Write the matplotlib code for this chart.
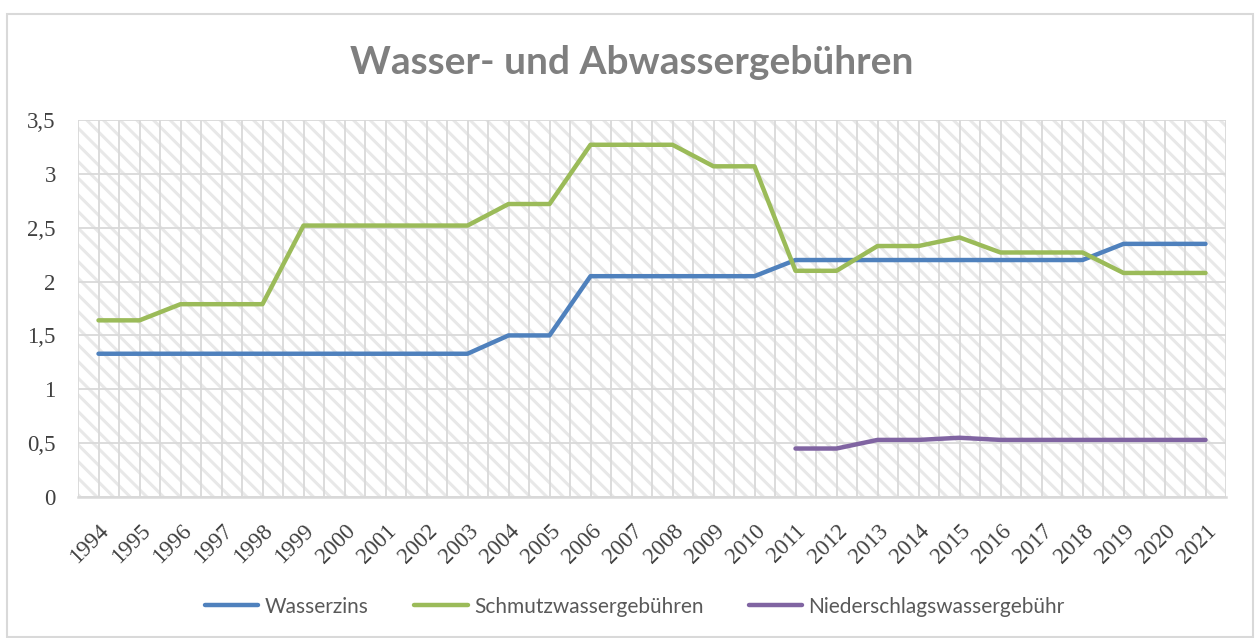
import matplotlib
matplotlib.use("Agg")
import matplotlib.pyplot as plt
from matplotlib.patches import Rectangle
from matplotlib.ticker import FixedLocator, FuncFormatter

# Data
years = [str(y) for y in range(1994, 2022)]
wasserzins = [1.33, 1.33, 1.33, 1.33, 1.33, 1.33, 1.33, 1.33, 1.33, 1.33,
              1.50, 1.50,
              2.05, 2.05, 2.05, 2.05, 2.05,
              2.20, 2.20, 2.20, 2.20, 2.20, 2.20, 2.20, 2.20,
              2.35, 2.35, 2.35]
schmutzwasser = [1.64, 1.64,
                 1.79, 1.79, 1.79,
                 2.52, 2.52, 2.52, 2.52, 2.52,
                 2.72, 2.72,
                 3.27, 3.27, 3.27,
                 3.07, 3.07,
                 2.10, 2.10,
                 2.33, 2.33,
                 2.41,
                 2.27, 2.27, 2.27,
                 2.08, 2.08, 2.08]
niederschlag_years = years[17:]
niederschlag = [0.45, 0.45, 0.53, 0.53, 0.55, 0.53, 0.53, 0.53, 0.53, 0.53, 0.53]

series_labels = ["Wasserzins", "Schmutzwassergebühren", "Niederschlagswassergebühr"]
colors = ["#4F81BD", "#9BBB59", "#8064A2"]

grid_col = "#D9D9D9"
plt.rcParams["hatch.linewidth"] = 2.2

fig = plt.figure(figsize=(12.55, 6.38), dpi=100)
ax = fig.add_axes([78 / 1255, 1 - 497 / 638, (1226 - 78) / 1255, (497 - 120) / 638])

x = list(range(len(years)))
xn = [years.index(y) for y in niederschlag_years]
ax.plot(x, wasserzins, color=colors[0], lw=3.2, solid_capstyle="round", label=series_labels[0], zorder=3)
ax.plot(x, schmutzwasser, color=colors[1], lw=3.2, solid_capstyle="round", label=series_labels[1], zorder=3)
ax.plot(xn, niederschlag, color=colors[2], lw=3.2, solid_capstyle="round", label=series_labels[2], zorder=3)

# hatched background of the plot area
ax.add_patch(Rectangle((0, 0), 1, 1, transform=ax.transAxes, facecolor="white",
                       edgecolor="#E8E8E8", hatch="\\\\", lw=0, zorder=0))

ax.set_xlim(-0.5, len(years) - 0.5)
ax.set_ylim(0, 3.5)
ax.set_yticks([0, 0.5, 1, 1.5, 2, 2.5, 3, 3.5])
ax.yaxis.set_major_formatter(FuncFormatter(lambda v, p: f"{v:g}".replace(".", ",")))
ax.set_xticks(x)
ax.set_xticklabels(years, rotation=45, ha="right", va="top", rotation_mode="anchor")
ax.xaxis.set_minor_locator(FixedLocator([i - 0.5 for i in range(len(years) + 1)]))

ax.set_axisbelow(True)
ax.grid(True, which="major", color=grid_col, lw=1.3)
ax.grid(True, which="minor", axis="x", color=grid_col, lw=1.3)
for s in ["top", "right", "left"]:
    ax.spines[s].set_visible(False)
ax.spines["bottom"].set_color(grid_col)
ax.spines["bottom"].set_linewidth(1.8)

ax.tick_params(axis="both", which="both", length=0, labelcolor="#404040")
ax.tick_params(axis="y", pad=16)
ax.tick_params(axis="x", pad=17)
for lab in ax.get_xticklabels() + ax.get_yticklabels():
    lab.set_fontfamily("Liberation Serif")
    lab.set_fontsize(16.5)

fig.text(0.503, 0.902, "Wasser- und Abwassergebühren", ha="center", va="center",
         fontsize=28, fontweight="bold", color="#7F7F7F", family="Lato")

leg = fig.legend(loc="center", bbox_to_anchor=(0.506, 0.049), ncol=3, frameon=False,
                 prop={"family": "Lato", "size": 15}, handlelength=2.55,
                 handletextpad=0.3, columnspacing=2.2)
for t in leg.get_texts():
    t.set_color("#595959")
for h in leg.get_lines():
    h.set_linewidth(3.2)

# chart border
fig.add_artist(Rectangle((7 / 1255, 1 / 638), 1246 / 1255, 623 / 638,
                         transform=fig.transFigure, fill=False, edgecolor=grid_col, lw=1.5))

fig.savefig("out.png", dpi=100)
